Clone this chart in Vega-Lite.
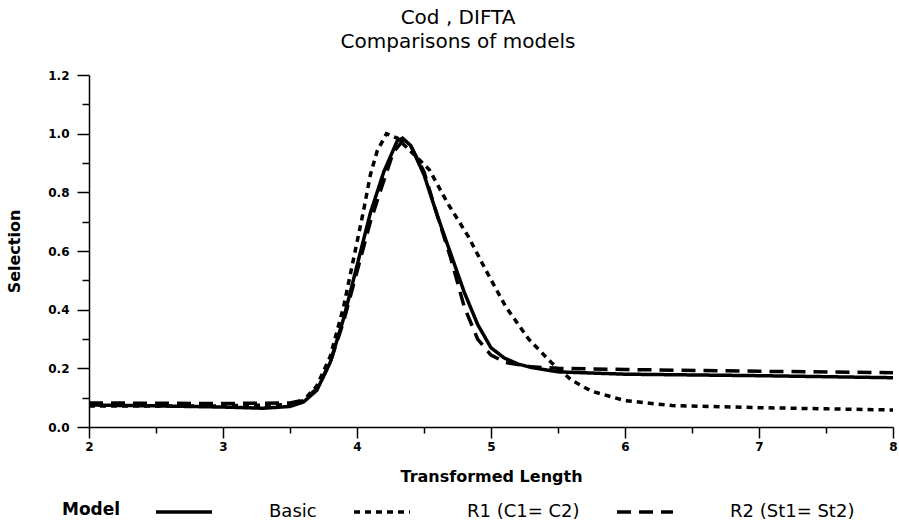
{
  "$schema": "https://vega.github.io/schema/vega-lite/v6.json",
  "autosize": {"type": "none"},
  "padding": {"left": 89, "top": 75, "right": 6, "bottom": 104},
  "width": 804,
  "height": 352,
  "background": "white",
  "title": {
    "text": ["Cod , DIFTA", "Comparisons of models"],
    "font": "DejaVu Sans",
    "fontSize": 20,
    "fontWeight": "normal",
    "lineHeight": 24,
    "anchor": "middle",
    "dx": -33,
    "offset": 17,
    "color": "black"
  },
  "config": {
    "view": {"stroke": null},
    "axis": {
      "domainColor": "black",
      "domainWidth": 1.5,
      "tickColor": "black",
      "tickWidth": 1.5,
      "grid": false,
      "labelFont": "DejaVu Sans",
      "labelFontWeight": "bold",
      "labelFontSize": 12,
      "labelColor": "black",
      "titleFont": "DejaVu Sans",
      "titleFontWeight": "bold",
      "titleFontSize": 16,
      "titleColor": "black"
    },
    "legend": {
      "labelFont": "DejaVu Sans",
      "labelFontSize": 18,
      "labelColor": "black",
      "titleFont": "DejaVu Sans",
      "titleFontSize": 17,
      "titleFontWeight": "bold",
      "titleColor": "black"
    }
  },
  "data": {
    "values": [
      {"series": "Basic", "x": 2.0, "y": 0.075},
      {"series": "Basic", "x": 2.5, "y": 0.072},
      {"series": "Basic", "x": 3.0, "y": 0.068},
      {"series": "Basic", "x": 3.3, "y": 0.064},
      {"series": "Basic", "x": 3.5, "y": 0.07},
      {"series": "Basic", "x": 3.6, "y": 0.085},
      {"series": "Basic", "x": 3.7, "y": 0.125},
      {"series": "Basic", "x": 3.8, "y": 0.22},
      {"series": "Basic", "x": 3.9, "y": 0.37},
      {"series": "Basic", "x": 4.0, "y": 0.55},
      {"series": "Basic", "x": 4.1, "y": 0.73},
      {"series": "Basic", "x": 4.2, "y": 0.87},
      {"series": "Basic", "x": 4.3, "y": 0.975},
      {"series": "Basic", "x": 4.34, "y": 0.985},
      {"series": "Basic", "x": 4.4, "y": 0.96},
      {"series": "Basic", "x": 4.5, "y": 0.86},
      {"series": "Basic", "x": 4.6, "y": 0.72},
      {"series": "Basic", "x": 4.7, "y": 0.59},
      {"series": "Basic", "x": 4.8, "y": 0.46},
      {"series": "Basic", "x": 4.9, "y": 0.35},
      {"series": "Basic", "x": 5.0, "y": 0.27},
      {"series": "Basic", "x": 5.1, "y": 0.235},
      {"series": "Basic", "x": 5.2, "y": 0.215},
      {"series": "Basic", "x": 5.3, "y": 0.203},
      {"series": "Basic", "x": 5.5, "y": 0.188},
      {"series": "Basic", "x": 6.0, "y": 0.18},
      {"series": "Basic", "x": 7.0, "y": 0.175},
      {"series": "Basic", "x": 8.0, "y": 0.168},
      {"series": "R1 (C1= C2)", "x": 2.0, "y": 0.072},
      {"series": "R1 (C1= C2)", "x": 3.0, "y": 0.072},
      {"series": "R1 (C1= C2)", "x": 3.5, "y": 0.076},
      {"series": "R1 (C1= C2)", "x": 3.6, "y": 0.09},
      {"series": "R1 (C1= C2)", "x": 3.7, "y": 0.14},
      {"series": "R1 (C1= C2)", "x": 3.8, "y": 0.24},
      {"series": "R1 (C1= C2)", "x": 3.9, "y": 0.41},
      {"series": "R1 (C1= C2)", "x": 4.0, "y": 0.63},
      {"series": "R1 (C1= C2)", "x": 4.05, "y": 0.74},
      {"series": "R1 (C1= C2)", "x": 4.1, "y": 0.86},
      {"series": "R1 (C1= C2)", "x": 4.15, "y": 0.94},
      {"series": "R1 (C1= C2)", "x": 4.22, "y": 1.0},
      {"series": "R1 (C1= C2)", "x": 4.3, "y": 0.985},
      {"series": "R1 (C1= C2)", "x": 4.4, "y": 0.94},
      {"series": "R1 (C1= C2)", "x": 4.54, "y": 0.877},
      {"series": "R1 (C1= C2)", "x": 4.68, "y": 0.76},
      {"series": "R1 (C1= C2)", "x": 4.83, "y": 0.65},
      {"series": "R1 (C1= C2)", "x": 4.96, "y": 0.536},
      {"series": "R1 (C1= C2)", "x": 5.11, "y": 0.41},
      {"series": "R1 (C1= C2)", "x": 5.28, "y": 0.3},
      {"series": "R1 (C1= C2)", "x": 5.45, "y": 0.22},
      {"series": "R1 (C1= C2)", "x": 5.6, "y": 0.16},
      {"series": "R1 (C1= C2)", "x": 5.75, "y": 0.122},
      {"series": "R1 (C1= C2)", "x": 6.0, "y": 0.09},
      {"series": "R1 (C1= C2)", "x": 6.35, "y": 0.073},
      {"series": "R1 (C1= C2)", "x": 7.0, "y": 0.066},
      {"series": "R1 (C1= C2)", "x": 7.5, "y": 0.062},
      {"series": "R1 (C1= C2)", "x": 8.0, "y": 0.058},
      {"series": "R2 (St1= St2)", "x": 2.0, "y": 0.082},
      {"series": "R2 (St1= St2)", "x": 3.0, "y": 0.08},
      {"series": "R2 (St1= St2)", "x": 3.5, "y": 0.082},
      {"series": "R2 (St1= St2)", "x": 3.6, "y": 0.092},
      {"series": "R2 (St1= St2)", "x": 3.7, "y": 0.13},
      {"series": "R2 (St1= St2)", "x": 3.8, "y": 0.22},
      {"series": "R2 (St1= St2)", "x": 3.9, "y": 0.36},
      {"series": "R2 (St1= St2)", "x": 4.0, "y": 0.53},
      {"series": "R2 (St1= St2)", "x": 4.1, "y": 0.7},
      {"series": "R2 (St1= St2)", "x": 4.2, "y": 0.84},
      {"series": "R2 (St1= St2)", "x": 4.27, "y": 0.935},
      {"series": "R2 (St1= St2)", "x": 4.34, "y": 0.975},
      {"series": "R2 (St1= St2)", "x": 4.4, "y": 0.96},
      {"series": "R2 (St1= St2)", "x": 4.5, "y": 0.87},
      {"series": "R2 (St1= St2)", "x": 4.6, "y": 0.72},
      {"series": "R2 (St1= St2)", "x": 4.7, "y": 0.575},
      {"series": "R2 (St1= St2)", "x": 4.8, "y": 0.41},
      {"series": "R2 (St1= St2)", "x": 4.9, "y": 0.3},
      {"series": "R2 (St1= St2)", "x": 5.0, "y": 0.245},
      {"series": "R2 (St1= St2)", "x": 5.11, "y": 0.22},
      {"series": "R2 (St1= St2)", "x": 5.3, "y": 0.205},
      {"series": "R2 (St1= St2)", "x": 5.5, "y": 0.2},
      {"series": "R2 (St1= St2)", "x": 6.0, "y": 0.196},
      {"series": "R2 (St1= St2)", "x": 7.0, "y": 0.19},
      {"series": "R2 (St1= St2)", "x": 8.0, "y": 0.185}
    ]
  },
  "mark": {"type": "line", "color": "black", "strokeWidth": 3.5, "clip": true},
  "encoding": {
    "x": {
      "field": "x",
      "type": "quantitative",
      "scale": {"domain": [2, 8], "nice": false, "zero": false},
      "axis": {
        "title": "Transformed Length",
        "titlePadding": 16,
        "values": [2, 2.5, 3, 3.5, 4, 4.5, 5, 5.5, 6, 6.5, 7, 7.5, 8],
        "labelExpr": "datum.value % 1 == 0 ? format(datum.value, 'd') : ''",
        "tickSize": {"condition": {"test": "datum.value % 1 == 0", "value": 11}, "value": 6},
        "labelPadding": 3,
        "labelFlush": false
      }
    },
    "y": {
      "field": "y",
      "type": "quantitative",
      "scale": {"domain": [0, 1.2], "nice": false},
      "axis": {
        "title": "Selection",
        "titlePadding": 25,
        "values": [0, 0.1, 0.2, 0.3, 0.4, 0.5, 0.6, 0.7, 0.8, 0.9, 1.0, 1.1, 1.2],
        "labelExpr": "round(datum.value * 10) % 2 == 0 ? format(datum.value, '.1f') : ''",
        "tickSize": {"condition": {"test": "round(datum.value * 10) % 2 == 0", "value": 12}, "value": 7},
        "labelPadding": 8,
        "labelFlush": false
      }
    },
    "strokeDash": {
      "field": "series",
      "type": "nominal",
      "scale": {
        "domain": ["Basic", "R1 (C1= C2)", "R2 (St1= St2)"],
        "range": [[1, 0], [6, 5], [14, 8]]
      },
      "legend": {
        "title": ["", "Model"],
        "orient": "none",
        "legendX": -27,
        "legendY": 407,
        "direction": "horizontal",
        "titleOrient": "left",
        "titleLineHeight": 17,
        "titlePadding": 33,
        "symbolType": "stroke",
        "symbolSize": 3136,
        "symbolStrokeWidth": 3.5,
        "symbolStrokeColor": "black",
        "labelOffset": 55,
        "columnPadding": 30
      }
    }
  }
}
